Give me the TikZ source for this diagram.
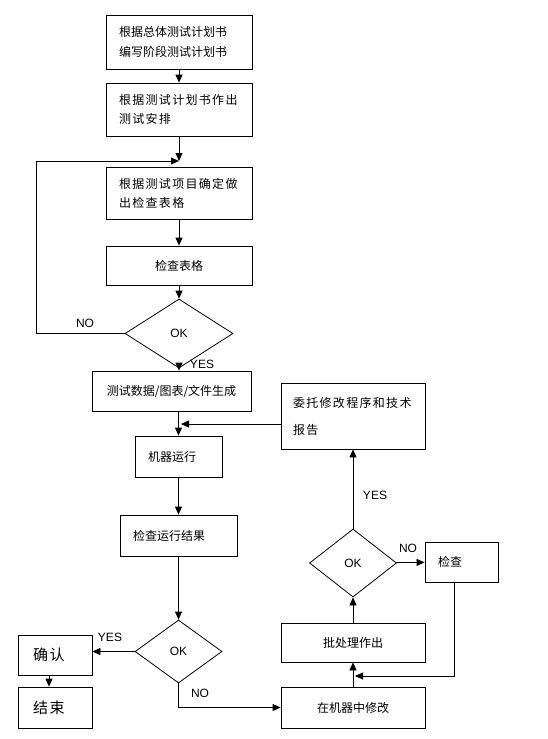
\documentclass[tikz,border=0pt]{standalone}
\usepackage{fontspec}
\setmainfont{Liberation Sans}
\newfontfamily\cjk{Noto Sans CJK SC}
\newfontfamily\cjkwide[LetterSpace=11]{Noto Sans CJK SC}
\usetikzlibrary{shapes.geometric,arrows.meta}

\begin{document}
\begin{tikzpicture}[x=1pt,y=-1pt, line width=0.8pt,
    box/.style={draw, inner xsep=13pt, inner ysep=0pt, align=left, font=\fontsize{12}{20}\cjk},
    okd/.style={draw, diamond, inner sep=0pt, font=\fontsize{12}{14}\selectfont},
    lbl/.style={font=\fontsize{12}{14}\selectfont},
    >={Triangle[length=8pt,width=7pt]}]
  \useasboundingbox (0,0) rectangle (548,739);
  % left column
  \node[box, text width=120pt, minimum height=54pt] (plan) at (179,42) {根据总体测试计划书\\编写阶段测试计划书};
  \node[box, text width=120pt, minimum height=53pt, font=\fontsize{12}{19}\cjkwide] (arrange) at (179,109.5) {根据测试计划书作出\\测试安排};
  \node[box, text width=120pt, minimum height=52pt, font=\fontsize{12}{19}\cjkwide] (table) at (179,193) {根据测试项目确定做\\出检查表格};
  \node[box, text width=120pt, minimum height=39pt, align=center] (check) at (179,265.5) {检查表格};
  \node[okd, minimum width=108pt, minimum height=69pt] (ok1) at (179,333.5) {OK};
  \node[box, text width=135pt, minimum height=40pt, inner xsep=12pt, align=center] (gen) at (171.5,391) {测试数据/图表/文件生成};
  \node[box, text width=61pt, minimum height=41pt] (run) at (178.5,456.5) {机器运行};
  \node[box, text width=91pt, minimum height=41pt] (result) at (178.5,535.5) {检查运行结果};
  \node[okd, minimum width=87pt, minimum height=63pt] (ok2) at (178.5,651.5) {OK};
  \node[box, text width=44pt, minimum height=40pt, inner xsep=15pt, font=\fontsize{15}{18}\cjkwide] (confirm) at (55,655) {确认};
  \node[box, text width=44pt, minimum height=41pt, inner xsep=15pt, font=\fontsize{15}{18}\cjkwide] (finish) at (55,707.5) {结束};
  % right column
  \node[box, text width=120pt, minimum height=66pt, inner xsep=12pt, font=\fontsize{12}{27}\cjkwide] (entrust) at (353,416) {委托修改程序和技术\\报告};
  \node[okd, minimum width=87pt, minimum height=68pt] (ok3) at (353,563) {OK};
  \node[box, text width=47pt, minimum height=40pt] (inspect) at (461.5,562) {检查};
  \node[box, text width=118pt, minimum height=39pt, align=center] (batch) at (353,642.5) {批处理作出};
  \node[box, text width=118pt, minimum height=41pt, align=center] (modify) at (353,707.5) {在机器中修改};
  \coordinate (join1) at (179,161);
  \coordinate (loop1) at (36,333);
  \coordinate (join2) at (181,424);
  \coordinate (join3) at (355,676);
  % connectors
  \draw[->] (plan) -- (arrange);
  \draw[->] (arrange) -- (join1);
  \draw[->] (table) -- (check);
  \draw[->] (check) -- (ok1);
  \draw[->] (ok1.west) -- (ok1.west -| loop1) |- (join1);
  \node[lbl] (no1) at (85,323) {NO};
  \draw[->] (ok1.south) -- (ok1.south |- gen.north);
  \node[lbl] (yes1) at (202,364) {YES};
  \draw[->] (run.north |- gen.south) -- (run.north);
  \draw[->] (entrust.west |- join2) -- (join2);
  \draw[->] (run) -- (result);
  \draw[->] (result) -- (ok2);
  \draw[->] (ok2.west) -- (ok2.west -| confirm.east);
  \node[lbl] (yes2) at (110,637) {YES};
  \draw[->] ([xshift=-6pt]confirm.south) -- ([xshift=-6pt]finish.north);
  \draw[->] (ok2.south) |- (modify.west);
  \node[lbl] (no2) at (200,693) {NO};
  \draw[->] (modify) -- (batch);
  \draw[->] ([xshift=-7.5pt]inspect.south) |- (join3);
  \draw[->] (batch) -- (ok3);
  \draw[->] (ok3) -- (inspect);
  \node[lbl] (no3) at (408,548) {NO};
  \draw[->] (ok3) -- (entrust);
  \node[lbl] (yes3) at (375,495) {YES};
\end{tikzpicture}
\end{document}
